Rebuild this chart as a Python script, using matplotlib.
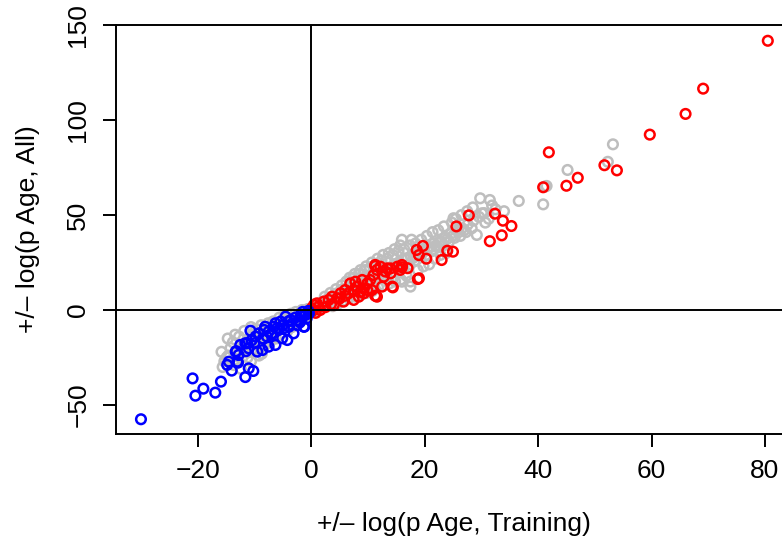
import matplotlib
matplotlib.use("Agg")
import matplotlib.pyplot as plt

plt.rcParams["font.family"] = ["Liberation Sans", "DejaVu Sans"]

# background cloud (all genes), grey
grey_x = [
    -15.8, -15.3, -15.6, -14.7, -14.2, -14.6, -13.4, -13.8, -13.2, -13.6,
    -12.7, -12.3, -12.6, -12.4, -11.8, -11.3, -11.6, -11.2,
    -10.6, -10.3, -10.8, -10.4, -10.6, -9.7, -9.3, -9.6, -9.2,
    -8.8, -8.4, -8.6, -8.3, -8.7, -7.6, -7.3, -7.8, -7.4,
    -6.7, -6.3, -6.6, -6.2, -5.6, -5.3, -5.8, -5.4,
    -4.7, -4.4, -4.6, -4.2, -3.6, -3.3, -3.8, -3.4,
    -2.7, -2.3, -2.6, -2.2, -1.6, -1.3, -1.8, -1.4, -0.6, -0.3, -0.8,
    -12.1, -11.9, -9.1, -8.9, -7.1, -6.9, -5.1, -4.9, -3.1, -2.9, -1.1, -0.9,
    0.4, 0.7, 0.3, 0.6, 1.4, 1.7, 1.3, 2.6, 2.3, 2.8, 2.4,
    3.6, 3.3, 3.8, 3.4, 4.7, 4.3, 4.6, 4.4, 5.6, 5.3, 5.8, 5.4,
    6.7, 6.3, 6.6, 6.2, 6.8, 7.6, 7.3, 7.8, 7.4, 7.7,
    8.6, 8.3, 8.8, 8.4, 8.7, 9.6, 9.3, 9.8, 9.4, 9.7,
    10.6, 10.3, 10.8, 10.4, 10.7, 11.6, 11.3, 11.8, 11.4, 11.7,
    12.6, 12.3, 12.8, 12.4, 12.7, 13.6, 13.3, 13.8, 13.4, 13.7,
    14.6, 14.3, 14.8, 14.4, 14.7, 15.6, 15.3, 15.8, 15.4, 15.7,
    16.6, 16.3, 16.8, 16.4, 16.0, 17.6, 17.3, 17.5, 17.4, 17.7,
    18.6, 18.3, 18.8, 18.4, 19.6, 19.3, 19.8, 19.4,
    20.6, 20.3, 20.8, 20.4, 21.6, 21.3, 21.8, 21.4,
    22.6, 22.3, 22.8, 22.4, 23.6, 23.3, 23.8, 23.4,
    24.6, 24.3, 24.8, 25.1, 25.6, 25.3, 25.5, 26.6, 26.3, 26.5,
    27.6, 27.3, 27.5, 28.6, 28.3, 28.5, 29.6, 29.2, 29.8,
    30.5, 30.1, 30.7, 31.5, 31.3, 31.9, 32.5, 34.0, 36.6, 40.9,
    41.2, 41.5, 45.2, 52.3, 53.2,
    1.0, 3.0, 5.0, 7.0, 9.0, 11.0, 13.0, 15.0, 17.0, 19.0,
    21.0, 23.0, 25.0, 27.0, 16.0, 17.5,
    -14.9, -13.0, -11.0, -9.9, -8.0, -6.0, -4.0, -2.0, 2.0, 4.0,
    6.0, 8.0, 10.0, 12.0, 14.0, 18.0, 20.0, 22.0, 24.0, 26.0,
]
grey_y = [
    -22, -27, -30, -15, -20, -24, -13, -17, -26, -29,
    -14, -19, -23, -31, -11, -16, -20, -25,
    -9, -13, -18, -22, -27, -10, -14, -17, -24,
    -8, -12, -16, -19, -23, -7, -10, -14, -17,
    -6, -9, -11, -15, -4, -7, -10, -13,
    -3, -6, -8, -11, -2, -4, -6, -9,
    -1, -3, -5, -7, 0, -2, -3.5, -5, 0.5, -1, -2.5,
    -18, -22, -15, -20, -12, -15.5, -9, -5, -4.5, -7.5, -1.5, -3.5,
    1.5, 0, -1, 3, 3.5, 1, 2, 5, 2, 3.5, 7,
    7, 4, 2, 9, 9, 5.5, 3, 11, 11, 7, 5, 13,
    12, 9, 6, 15, 17, 14, 10, 7, 17, 19,
    15, 12, 8, 19, 21, 17, 13, 9, 21, 23,
    18, 14, 10, 22, 25, 19, 16, 12, 24, 27,
    21, 17, 13, 26, 29, 22, 18, 14, 27, 30,
    24, 20, 15, 29, 32, 25, 21, 16, 31, 34,
    27, 23, 18, 32, 37, 28, 24, 15, 34, 37,
    30, 26, 21, 35, 31, 28, 23, 37,
    33, 29, 24, 39, 35, 31, 27, 41,
    36, 33, 29, 42, 38, 34, 30, 44,
    40, 36, 46, 48.3, 42, 38, 48, 43, 39, 50,
    45, 41, 52, 47, 43, 54, 49, 39.5, 58.8,
    51, 50.9, 46, 57.9, 48, 55, 53, 52, 57.4, 55.6,
    64.9, 65.3, 73.7, 78, 87.2,
    1.5, 6, 8, 11.5, 14.5, 17.5, 20.5, 24, 27, 30,
    33, 36, 39, 42, 14.9, 12.3,
    -25, -21, -18, -16, -13, -10.5, -7, -3.5, 3, 6.5,
    9.5, 12.5, 15.5, 19, 22, 27.5, 31, 34, 37.5, 41,
]

# positive side highlights, red
red_x = [
    0.5, 1.3, 2.2, 3.1, 3.7, 4.6, 5.2, 6.0, 6.9, 6.6,
    7.5, 8.1, 8.7, 9.3, 9.9, 10.4, 11.0, 11.6, 12.2, 11.3,
    13.4, 14.0, 15.2, 16.0, 15.7, 14.3, 12.5, 11.6, 8.4, 9.3,
    19.0, 19.0, 1.6, 0.2, 0.1, 4.0, 5.7, 7.5, 9.9, 10.7,
    12.8, 13.1, 9.0, 7.8, 11.3, 14.4, 16.0, 14.0, 11.3, 18.8,
    20.3, 23.0, 24.0, 25.0, 19.7, 18.6, 27.8, 32.4, 33.8, 35.3,
    31.5, 33.6, 25.6, 0.8, 2.5, 1.0, 3.5, 5.0, 6.0, 17.0,
    80.5, 69.1, 66.0, 59.7, 41.9, 51.7, 53.9, 47.0, 45.0, 40.9,
]
red_y = [
    2.6, 1.7, 4.4, 5.3, 7.0, 6.2, 8.8, 10.5, 14.0, 8.8,
    10.5, 12.3, 9.6, 11.4, 14.0, 15.8, 18.4, 21.1, 22.8, 23.7,
    21.9, 19.3, 22.8, 23.7, 21.1, 12.3, 12.3, 7.0, 7.0, 8.8,
    16.7, 28.9, 0.0, -0.5, 0.9, 2.6, 4.4, 5.3, 10.5, 10.5,
    17.5, 20.2, 15.8, 14.9, 7.5, 11.9, 22.5, 21.9, 23.2, 16.3,
    27.0, 26.3, 31.2, 30.7, 33.7, 31.6, 49.8, 50.7, 47.0, 44.2,
    36.2, 39.3, 44.0, -1.5, 1.5, 3.5, 3.0, 6.0, 7.5, 22.0,
    141.7, 116.5, 103.2, 92.3, 83.0, 76.2, 73.5, 69.6, 65.4, 64.6,
]

# negative side highlights, blue
blue_x = [
    -30.0, -20.9, -20.4, -19.0, -16.9, -15.9, -14.8, -14.0, -12.9, -11.6,
    -10.2, -10.7, -13.2, -12.5, -11.5, -11.3, -10.0, -9.5, -8.3, -7.5,
    -6.6, -1.2, -9.2, -8.1, -7.5, -6.3, -5.4, -4.5, -3.6, -3.1,
    -2.5, -1.3, -1.0, -0.4, -11.6, -11.0, -8.6, -6.3, -5.1, -4.2,
    -13.3, -12.8, -14.5, -13.0, -11.0, -7.8, -6.9, -5.7, -4.8, -3.9,
    -2.2, -1.6, -0.5, -1.8, -2.8, -0.8, -1.5, -2.0, -4.0, -5.0,
    -6.0, -7.0, -8.5, -9.8, -10.5,
]
blue_y = [
    -57.5, -36.0, -45.1, -41.4, -43.5, -37.7, -28.9, -31.9, -27.7, -35.3,
    -32.1, -10.9, -21.7, -18.4, -21.7, -17.5, -17.5, -21.9, -10.5, -19.3,
    -8.8, -8.8, -12.3, -8.8, -11.4, -7.0, -6.1, -3.5, -5.3, -12.3,
    -7.9, -8.8, -2.6, -1.8, -17.5, -20.2, -21.1, -18.4, -14.9, -15.8,
    -21.9, -23.7, -27.2, -27.2, -30.7, -14.0, -12.3, -10.5, -9.6, -8.8,
    -5.3, -3.5, -0.5, -2.5, -4.0, -4.5, -1.0, -6.5, -6.0, -8.0,
    -9.5, -13.0, -15.0, -14.0, -16.0,
]

fig = plt.figure(figsize=(7.82, 5.36), dpi=100)
# plot region runs past the right edge of the image, as in the original crop
ax = fig.add_axes([116 / 782, 102.5 / 536, 679.6 / 782, 408.5 / 536])

ms = 48
lw = 1.8
ax.scatter(grey_x, grey_y, s=ms, facecolors="none", edgecolors="#BEBEBE", linewidths=lw)
ax.scatter(red_x, red_y, s=ms, facecolors="none", edgecolors="#FF0000", linewidths=lw)
ax.scatter(blue_x, blue_y, s=ms, facecolors="none", edgecolors="#0000FF", linewidths=lw)

ax.axhline(0, color="black", lw=1.4)
ax.axvline(0, color="black", lw=1.4)

ax.set_xlim(-34.4, 85.4)
ax.set_ylim(-65, 150)
ax.set_xticks([-20, 0, 20, 40, 60, 80])
ax.set_yticks([-50, 0, 50, 100, 150])

for side in ["left", "bottom", "top"]:
    ax.spines[side].set_linewidth(1.4)
ax.spines["right"].set_visible(False)

ax.tick_params(length=9.4, width=1.4, labelsize=19, direction="out")
ax.tick_params(axis="x", pad=9)
ax.tick_params(axis="y", pad=9)
for lab in ax.get_yticklabels():
    lab.set_rotation(90)
    lab.set_va("center")

fig.text(453.5 / 782, 5 / 536, "+/\u2013 log(p Age, Training)",
         ha="center", va="baseline", fontsize=19)
fig.text(28 / 782, 1 - 229 / 536, "+/\u2013 log(p Age, All)",
         ha="center", va="center", rotation=90, fontsize=19)

fig.savefig("out.png", dpi=100)
